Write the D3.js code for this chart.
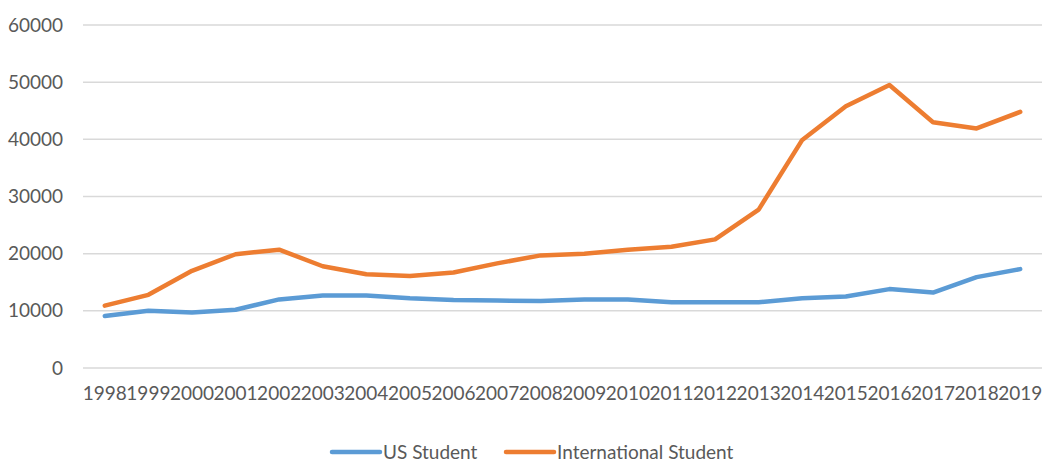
<!DOCTYPE html>
<html>
<head>
<meta charset="utf-8">
<script src="https://cdn.jsdelivr.net/npm/d3@7"></script>
<style>
  body { margin: 0; background: #fff; }
  svg text { font-family: Lato, "Open Sans", sans-serif; fill: #595959; }
</style>
</head>
<body>
<div id="chart"></div>
<script>
var years = ['1998', '1999', '2000', '2001', '2002', '2003', '2004', '2005', '2006', '2007', '2008',
  '2009', '2010', '2011', '2012', '2013', '2014', '2015', '2016', '2017', '2018', '2019'];
var usStudent = [9100, 10000, 9700, 10200, 12000, 12700, 12700, 12200, 11900, 11800, 11700,
  12000, 12000, 11500, 11500, 11500, 12200, 12500, 13800, 13200, 15900, 17300];
var intlStudent = [10900, 12800, 17000, 19900, 20700, 17800, 16400, 16100, 16700, 18300, 19700,
  20000, 20700, 21200, 22500, 27700, 39900, 45800, 49500, 43000, 41900, 44800];
var yTicks = [0, 10000, 20000, 30000, 40000, 50000, 60000];
var seriesNames = ['US Student', 'International Student'];
var seriesColors = ['#5b9bd5', '#ed7d31'];

var width = 1043, height = 462;
var margin = {top: 25, right: 1, bottom: 94, left: 83};
var w = width - margin.left - margin.right;
var h = height - margin.top - margin.bottom;

var svg = d3.select('#chart').append('svg')
  .attr('width', width)
  .attr('height', height);

var g = svg.append('g')
  .attr('transform', 'translate(' + margin.left + ',' + margin.top + ')');

var x = d3.scaleBand()
  .domain(years)
  .range([0, w]);

var y = d3.scaleLinear()
  .domain([0, 60000])
  .range([h, 0]);

// gridlines
g.selectAll('.grid')
  .data(yTicks)
  .enter()
  .append('line')
  .attr('class', 'grid')
  .attr('x1', 0)
  .attr('x2', w)
  .attr('y1', function(d) { return y(d); })
  .attr('y2', function(d) { return y(d); })
  .attr('stroke', '#d9d9d9')
  .attr('stroke-width', 1.5);

var yAxis = d3.axisLeft(y)
  .tickValues(yTicks)
  .tickSize(0)
  .tickPadding(20)
  .tickFormat(d3.format('d'));

g.append('g')
  .attr('class', 'y axis')
  .call(yAxis)
  .call(function(sel) { sel.select('.domain').remove(); })
  .selectAll('text')
  .style('font-size', '19px');

var xAxis = d3.axisBottom(x)
  .tickSize(0)
  .tickPadding(19);

g.append('g')
  .attr('class', 'x axis')
  .attr('transform', 'translate(0,' + h + ')')
  .call(xAxis)
  .call(function(sel) { sel.select('.domain').remove(); })
  .selectAll('text')
  .style('font-size', '19px');

var line = d3.line()
  .x(function(d, i) { return x(years[i]) + x.bandwidth() / 2; })
  .y(function(d) { return y(d); });

[usStudent, intlStudent].forEach(function(values, i) {
  g.append('path')
    .datum(values)
    .attr('fill', 'none')
    .attr('stroke', seriesColors[i])
    .attr('stroke-width', 4.5)
    .attr('stroke-linejoin', 'round')
    .attr('stroke-linecap', 'round')
    .attr('d', line);
});

// legend
var legendX = [332, 506];
var legend = svg.selectAll('.legend')
  .data(seriesNames)
  .enter()
  .append('g')
  .attr('class', 'legend')
  .attr('transform', function(d, i) { return 'translate(' + legendX[i] + ',452)'; });

legend.append('line')
  .attr('x1', 0)
  .attr('x2', 48)
  .attr('stroke', function(d, i) { return seriesColors[i]; })
  .attr('stroke-width', 4.5)
  .attr('stroke-linecap', 'round');

legend.append('text')
  .attr('x', 51)
  .attr('dy', '0.35em')
  .style('font-size', '19px')
  .text(function(d) { return d; });
</script>
</body>
</html>
